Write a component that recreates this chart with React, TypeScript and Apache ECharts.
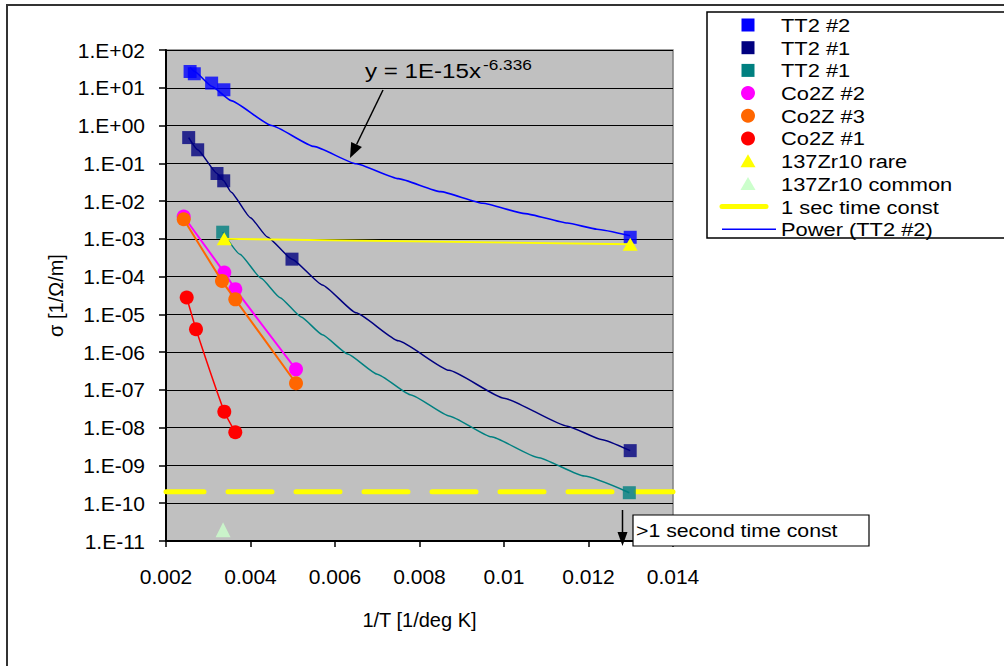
import React, { useEffect, useRef } from "react";
import * as echarts from "echarts";

const FONT = "'Liberation Sans', Arial, sans-serif";

// ---- data (x = 1/T [1/deg K], y = sigma [1/Ohm/m]) ----
const tt2n2X = [0.00257, 0.00267, 0.00308, 0.00337, 0.012987];
const tt2n2Y = [27, 23.5, 13.3, 8.85, 1.1e-3];

const powerX = [0.00257, 0.00267, 0.00308, 0.00354, 0.0045, 0.0055, 0.0065, 0.0075, 0.0085, 0.0095, 0.0105, 0.0115, 0.0122, 0.012987];
const powerY = [34.8, 27.3, 11.0, 4.57, 1.0, 0.28, 0.097, 0.0392, 0.01774, 0.00877, 0.00466, 0.00262, 0.0018, 0.00121];

const tt2n1X = [0.002537, 0.00275, 0.003207, 0.003366, 0.004982, 0.012987];
const tt2n1Y = [0.48, 0.228, 0.0537, 0.0344, 2.9e-4, 2.47e-9];

const tt2n1CurveX = [0.002537, 0.00275, 0.003207, 0.003366, 0.003538, 0.004, 0.0044, 0.004982, 0.0057, 0.0065, 0.0075, 0.0087, 0.01, 0.0115, 0.0123, 0.012987];
const tt2n1CurveY = [0.48, 0.228, 0.0537, 0.0344, 0.0174, 3.63e-3, 1.12e-3, 2.9e-4, 6.03e-5, 1.1e-5, 2.0e-6, 3.31e-7, 6.03e-8, 1.1e-8, 4.9e-9, 2.47e-9];

const tt2n1bX = [0.003342, 0.012966];
const tt2n1bY = [1.5e-3, 1.9e-10];

const tt2n1bCurveX = [0.003342, 0.00375, 0.00425, 0.0047, 0.0052, 0.0057, 0.0063, 0.007, 0.0078, 0.0087, 0.0097, 0.0108, 0.0119, 0.012966];
const tt2n1bCurveY = [1.5e-3, 3.9e-4, 9.0e-5, 2.77e-5, 8.5e-6, 2.89e-6, 8.95e-7, 2.61e-7, 7.35e-8, 2.05e-8, 5.73e-9, 1.63e-9, 5.22e-10, 1.9e-10];

const co2z2X = [0.002419, 0.00338, 0.00364, 0.005077];
const co2z2Y = [3.9e-3, 1.28e-4, 4.66e-5, 3.5e-7];

const co2z3X = [0.002419, 0.003325, 0.00364, 0.005077];
const co2z3Y = [3.3e-3, 7.7e-5, 2.5e-5, 1.5e-7];

const co2z1X = [0.00249, 0.00271, 0.00338, 0.00364];
const co2z1Y = [2.8e-5, 4.06e-6, 2.66e-8, 7.6e-9];

const zrRareX = [0.003378, 0.012987];
const zrRareY = [1.0e-3, 7.2e-4];

const zrCommonX = [0.00335];
const zrCommonY = [2e-11];

const timeConstX = [0.002, 0.014];
const timeConstY = [2e-10, 2e-10];

const xTickValues = [0.002, 0.004, 0.006, 0.008, 0.01, 0.012, 0.014];

const legendNames = [
  "TT2 #2",
  "TT2 #1",
  "TT2 #1",
  "Co2Z #2",
  "Co2Z #3",
  "Co2Z #1",
  "137Zr10 rare",
  "137Zr10 common",
  "1 sec time const",
  "Power (TT2 #2)",
];
const legendKinds = ["rect", "rect", "rect", "circle", "circle", "circle", "tri", "tri", "thick", "thin"];
const legendColors = ["#0000FF", "#000080", "#008080", "#FF00FF", "#FF6600", "#FF0000", "#FFFF00", "#CCFFCC", "#FFFF00", "#0000FF"];

const zip = (xs: number[], ys: number[]) => xs.map((x, i) => [x, ys[i]]);

function buildLegend() {
  const els: any[] = [];
  els.push({
    type: "rect",
    shape: { x: 707, y: 12, width: 320, height: 226 },
    style: { fill: "#FFFFFF", stroke: "#000000", lineWidth: 1.5 },
    z: 10,
  });
  const cx = 748;
  legendNames.forEach((name, i) => {
    const cy = 25 + i * 22.7;
    const kind = legendKinds[i];
    const color = legendColors[i];
    if (kind === "rect") {
      els.push({ type: "rect", shape: { x: cx - 6.5, y: cy - 6.5, width: 13, height: 13 }, style: { fill: color }, z: 11 });
    } else if (kind === "circle") {
      els.push({ type: "circle", shape: { cx, cy, r: 7 }, style: { fill: color }, z: 11 });
    } else if (kind === "tri") {
      els.push({ type: "polygon", shape: { points: [[cx, cy - 7], [cx + 7.5, cy + 6], [cx - 7.5, cy + 6]] }, style: { fill: color }, z: 11 });
    } else if (kind === "thick") {
      els.push({ type: "line", shape: { x1: 722, y1: cy, x2: 766, y2: cy }, style: { stroke: color, lineWidth: 5, lineCap: "round" }, z: 11 });
    } else {
      els.push({ type: "line", shape: { x1: 722, y1: cy, x2: 776, y2: cy }, style: { stroke: color, lineWidth: 1.5 }, z: 11 });
    }
    els.push({
      type: "text",
      x: 781,
      y: cy,
      scaleX: 1.15,
      z: 11,
      style: { text: name, x: 0, y: 0, fill: "#000", fontSize: 19, fontFamily: FONT, verticalAlign: "middle", align: "left" },
    });
  });
  return els;
}

function arrowHead(tx: number, ty: number, fx: number, fy: number, len: number, half: number) {
  const dx = tx - fx;
  const dy = ty - fy;
  const L = Math.sqrt(dx * dx + dy * dy);
  const ux = dx / L;
  const uy = dy / L;
  const bx = tx - len * ux;
  const by = ty - len * uy;
  const px = -uy;
  const py = ux;
  return {
    base: [bx, by],
    points: [[tx, ty], [bx + half * px, by + half * py], [bx - half * px, by - half * py]],
  };
}

export default function App() {
  const ref = useRef<HTMLDivElement>(null);

  useEffect(() => {
    if (!ref.current) return;
    const chart = echarts.init(ref.current, null, { renderer: "svg" });

    const eqArrow = arrowHead(350, 158, 383, 90, 15, 6);
    const tcArrow = arrowHead(622.5, 546, 622.5, 510, 14, 5);

    const curveCommon = { symbol: "none", smooth: 0.15, smoothMonotone: "x" };

    const option: any = {
      animation: false,
      backgroundColor: "#FFFFFF",
      textStyle: { fontFamily: FONT },
      grid: {
        left: 166,
        right: 331,
        top: 50,
        bottom: 125,
        show: true,
        backgroundColor: "#C0C0C0",
        borderColor: "#808080",
        borderWidth: 1.5,
      },
      xAxis: {
        type: "value",
        min: xTickValues[0],
        max: xTickValues[xTickValues.length - 1],
        interval: 0.002,
        name: "1/T [1/deg K]",
        nameLocation: "middle",
        nameGap: 69,
        nameTextStyle: { fontSize: 20, color: "#000", fontFamily: FONT },
        axisLine: { show: true, onZero: false, lineStyle: { color: "#000", width: 2 } },
        axisTick: { show: true, inside: false, length: 6, lineStyle: { color: "#000", width: 1.5 } },
        axisLabel: {
          margin: 25,
          fontSize: 21,
          color: "#000",
          fontFamily: FONT,
          formatter: (v: number) => String(parseFloat(v.toFixed(3))),
        },
        splitLine: { show: false },
      },
      yAxis: {
        type: "log",
        logBase: 10,
        min: 1e-11,
        max: 100,
        interval: 1,
        name: "σ [1/Ω/m]",
        nameLocation: "middle",
        nameGap: 100,
        nameTextStyle: { fontSize: 20, color: "#000", fontFamily: FONT },
        axisLine: { show: true, lineStyle: { color: "#000", width: 2 } },
        axisTick: { show: true, inside: false, length: 7, lineStyle: { color: "#000", width: 1.5 } },
        axisLabel: {
          margin: 21,
          fontSize: 21,
          color: "#000",
          fontFamily: FONT,
          formatter: (v: number) => {
            const e = Math.round(Math.log10(v));
            const a = Math.abs(e);
            return "1.E" + (e < 0 ? "-" : "+") + (a < 10 ? "0" + a : String(a));
          },
        },
        splitLine: { show: true, lineStyle: { color: "#000", width: 1.2 } },
      },
      series: [
        {
          name: "1 sec time const",
          type: "line",
          data: zip(timeConstX, timeConstY),
          symbol: "none",
          lineStyle: { color: "#FFFF00", width: 5, type: [44, 24], dashOffset: 6, cap: "round" },
          z: 2,
        },
        {
          name: "Power (TT2 #2)",
          type: "line",
          data: zip(powerX, powerY),
          ...curveCommon,
          lineStyle: { color: "#0000FF", width: 1.6 },
          z: 3,
        },
        {
          name: "TT2 #2",
          type: "scatter",
          data: zip(tt2n2X, tt2n2Y),
          symbol: "rect",
          symbolSize: 13,
          itemStyle: { color: "#0000FF" },
          z: 4,
        },
        {
          name: "TT2 #1 curve",
          type: "line",
          data: zip(tt2n1CurveX, tt2n1CurveY),
          ...curveCommon,
          lineStyle: { color: "#000080", width: 1.5 },
          z: 3,
        },
        {
          name: "TT2 #1",
          type: "scatter",
          data: zip(tt2n1X, tt2n1Y),
          symbol: "rect",
          symbolSize: 13,
          itemStyle: { color: "#000080" },
          z: 4,
        },
        {
          name: "TT2 #1 b curve",
          type: "line",
          data: zip(tt2n1bCurveX, tt2n1bCurveY),
          ...curveCommon,
          lineStyle: { color: "#008080", width: 1.5 },
          z: 3,
        },
        {
          name: "TT2 #1 b",
          type: "scatter",
          data: zip(tt2n1bX, tt2n1bY),
          symbol: "rect",
          symbolSize: 13,
          itemStyle: { color: "#008080" },
          z: 4,
        },
        {
          name: "Co2Z #2",
          type: "line",
          data: zip(co2z2X, co2z2Y),
          symbol: "circle",
          symbolSize: 14,
          showAllSymbol: true,
          smooth: 0.25,
          lineStyle: { color: "#FF00FF", width: 2 },
          itemStyle: { color: "#FF00FF", borderWidth: 0 },
          z: 5,
        },
        {
          name: "Co2Z #3",
          type: "line",
          data: zip(co2z3X, co2z3Y),
          symbol: "circle",
          symbolSize: 14,
          showAllSymbol: true,
          smooth: 0.25,
          lineStyle: { color: "#FF6600", width: 2 },
          itemStyle: { color: "#FF6600", borderWidth: 0 },
          z: 6,
        },
        {
          name: "Co2Z #1",
          type: "line",
          data: zip(co2z1X, co2z1Y),
          symbol: "circle",
          symbolSize: 14,
          showAllSymbol: true,
          smooth: 0.15,
          lineStyle: { color: "#FF0000", width: 1.5 },
          itemStyle: { color: "#FF0000", borderWidth: 0 },
          z: 6,
        },
        {
          name: "137Zr10 rare",
          type: "line",
          data: zip(zrRareX, zrRareY),
          symbol: "triangle",
          symbolSize: [15, 13],
          showAllSymbol: true,
          lineStyle: { color: "#FFFF00", width: 1.8 },
          itemStyle: { color: "#FFFF00", borderWidth: 0 },
          z: 7,
        },
        {
          name: "137Zr10 common",
          type: "scatter",
          data: zip(zrCommonX, zrCommonY),
          symbol: "triangle",
          symbolSize: [15, 15],
          itemStyle: { color: "#CCFFCC" },
          z: 7,
        },
      ],
      graphic: [
        {
          type: "rect",
          shape: { x: 7, y: 5, width: 1010, height: 670 },
          style: { fill: "none", stroke: "#333333", lineWidth: 2 },
          z: 20,
        },
        ...buildLegend(),
        // equation annotation
        {
          type: "text",
          x: 365,
          y: 71,
          scaleX: 1.15,
          z: 12,
          style: { text: "y = 1E-15x", x: 0, y: 0, fontSize: 21, fontFamily: FONT, fill: "#000", verticalAlign: "middle" },
        },
        {
          type: "text",
          x: 483,
          y: 64,
          scaleX: 1.15,
          z: 12,
          style: { text: "-6.336", x: 0, y: 0, fontSize: 15, fontFamily: FONT, fill: "#000", verticalAlign: "middle" },
        },
        {
          type: "line",
          shape: { x1: 383, y1: 90, x2: eqArrow.base[0], y2: eqArrow.base[1] },
          style: { stroke: "#000", lineWidth: 1.5 },
          z: 12,
        },
        { type: "polygon", shape: { points: eqArrow.points }, style: { fill: "#000" }, z: 12 },
        // time constant annotation
        {
          type: "rect",
          shape: { x: 633, y: 515, width: 236, height: 31 },
          style: { fill: "#FFFFFF", stroke: "#000", lineWidth: 1.2 },
          z: 12,
        },
        {
          type: "text",
          x: 636,
          y: 531,
          scaleX: 1.15,
          z: 13,
          style: { text: ">1 second time const", x: 0, y: 0, fontSize: 18.5, fontFamily: FONT, fill: "#000", verticalAlign: "middle" },
        },
        {
          type: "line",
          shape: { x1: 622.5, y1: 510, x2: tcArrow.base[0], y2: tcArrow.base[1] },
          style: { stroke: "#000", lineWidth: 1.5 },
          z: 12,
        },
        { type: "polygon", shape: { points: tcArrow.points }, style: { fill: "#000" }, z: 12 },
      ],
    };

    chart.setOption(option);
    return () => chart.dispose();
  }, []);

  return (
    <div
      ref={ref}
      style={{ position: "absolute", left: 0, top: 0, width: 1004, height: 666, background: "#FFFFFF" }}
    />
  );
}
